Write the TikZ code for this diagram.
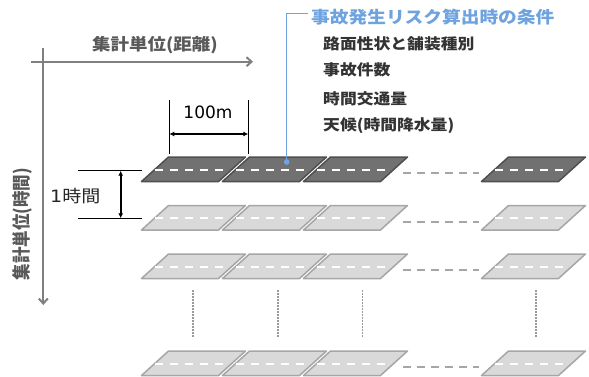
\documentclass[tikz,border=0pt]{standalone}
\usepackage{fontspec}
\usepackage{graphicx}
\usetikzlibrary{arrows.meta}
\newfontfamily\jp{Noto Sans CJK JP}
\newfontfamily\lat{DejaVu Sans}
\definecolor{axisgray}{HTML}{808080}
\definecolor{labgray}{HTML}{595959}
\definecolor{calloutblue}{HTML}{6FA3DF}
\definecolor{itemdark}{HTML}{333333}
\definecolor{darkfill}{HTML}{717171}
\definecolor{darkedge}{HTML}{4F4F4F}
\definecolor{lightfill}{HTML}{D9D9D9}
\definecolor{lightedge}{HTML}{A6A6A6}
\definecolor{gapdash}{HTML}{A6A6A6}
\definecolor{dotgray}{HTML}{9A9A9A}
\newcommand{\hstretch}[1]{\scalebox{1.12}[1]{#1}}
\newcommand{\roadtile}[5]{%
  \filldraw[fill=#4,draw=#5,line width=1.5pt,line join=round]
    (#1,#2+24.5) -- (#1+27,#2) -- (#1+27+#3,#2) -- (#1+#3,#2+24.5) -- cycle;
  \draw[white,line width=2pt,dash pattern=on 8pt off 7pt]
    (#1+13.5,#2+12.5) -- (#1+#3+8.5,#2+12.5);
}
\tikzset{
  axisline/.style={axisgray,line width=2pt},
  dimline/.style={black,line width=0.8pt},
  dimarrow/.style={black,line width=1.6pt,{Latex[length=5pt,width=5pt]}-{Latex[length=5pt,width=5pt]}},
  gapline/.style={gapdash,line width=2pt,dash pattern=on 8pt off 6pt},
  dotline/.style={dotgray,line width=1.5pt,dash pattern=on 1.5pt off 1.5pt},
  txt/.style={inner sep=0pt,font=\jp},
}
\begin{document}
\begin{tikzpicture}[x=1pt,y=-1pt]
\useasboundingbox (0,0) rectangle (589,376);
\fill[white] (0,0) rectangle (589,376);

% axes
\coordinate (hx0) at (31,61.7);
\coordinate (hx1) at (253,61.7);
\coordinate (vy0) at (43.3,48);
\coordinate (vy1) at (43.3,305);
\draw[axisline,-{Straight Barb[length=5pt,width=9pt]}] (hx0) -- (hx1);
\draw[axisline,-{Straight Barb[length=5pt,width=9pt]}] (vy0) -- (vy1);
\node[txt,text=labgray] (hlab) at (155,45) {\fontsize{16.5}{18}\selectfont\bfseries\hstretch{集計単位(距離)}};
\node[txt,text=labgray,rotate=90] (vlab) at (22,224) {\fontsize{16.5}{18}\selectfont\bfseries\scalebox{1}[1.12]{集計単位(時間)}};

% tiles
\foreach \x in {141.5,222.5,303.5} {\roadtile{\x}{157}{77}{darkfill}{darkedge}}
\roadtile{481.5}{157}{77}{darkfill}{darkedge}
\foreach \y in {205.5,254,351} {
  \foreach \x in {141.5,222.5,303.5} {\roadtile{\x}{\y}{77}{lightfill}{lightedge}}
  \roadtile{481.5}{\y}{77}{lightfill}{lightedge}
}
% dashed gaps between 3rd and last tile
\foreach \y in {157,205.5,254,351} {
  \coordinate (g0) at (403,\y+16);
  \coordinate (g1) at (479,\y+16);
  \draw[gapline] (g0) -- (g1);
}
% dotted vertical omission lines
\foreach \x in {193,278,362.5,536} {
  \coordinate (d0) at (\x,290);
  \coordinate (d1) at (\x,338);
  \draw[dotline] (d0) -- (d1);
}

% 100m dimension
\coordinate (wa0) at (169.3,100);
\coordinate (wa1) at (169.3,154);
\coordinate (wb0) at (248.3,100);
\coordinate (wb1) at (248.3,154);
\draw[dimline] (wa0) -- (wa1);
\draw[dimline] (wb0) -- (wb1);
\coordinate (wl) at (169.3,134);
\coordinate (wr) at (248.3,134);
\draw[dimarrow] (wl) -- (wr);
\node[txt] (w100) at (208,112) {\lat\fontsize{17}{19}\selectfont 100m};

% 1 hour dimension
\coordinate (ha0) at (78,170.7);
\coordinate (ha1) at (141.7,170.7);
\coordinate (hb0) at (78,218.3);
\coordinate (hb1) at (141.7,218.3);
\draw[dimline] (ha0) -- (ha1);
\draw[dimline] (hb0) -- (hb1);
\coordinate (ht) at (120.7,170.7);
\coordinate (hb) at (120.7,218.3);
\draw[dimarrow] (ht) -- (hb);
\node[txt,anchor=west,text=black!85] (h1) at (50,195.7) {\fontsize{17}{19}\selectfont\hstretch{{\lat 1}時間}};

% callout
\coordinate (cdot) at (286.7,162);
\coordinate (ccorner) at (286.7,13.3);
\coordinate (cend) at (308,13.3);
\draw[calloutblue,line width=1.5pt] (cdot) -- (ccorner) -- (cend);
\fill[calloutblue] (cdot) circle (2.8pt);
\node[txt,anchor=west,text=calloutblue] (ctitle) at (311,16.7) {\fontsize{16.7}{18}\selectfont\bfseries\hstretch{事故発生リスク算出時の条件}};
\node[txt,anchor=west,text=itemdark] (i1) at (323,44) {\fontsize{15}{17}\selectfont\bfseries\hstretch{路面性状と舗装種別}};
\node[txt,anchor=west,text=itemdark] (i2) at (323,69.5) {\fontsize{15}{17}\selectfont\bfseries\hstretch{事故件数}};
\node[txt,anchor=west,text=itemdark] (i3) at (323,99) {\fontsize{15}{17}\selectfont\bfseries\hstretch{時間交通量}};
\node[txt,anchor=west,text=itemdark] (i4) at (323,125.8) {\fontsize{15}{17}\selectfont\bfseries\hstretch{天候(時間降水量)}};
\end{tikzpicture}
\end{document}
